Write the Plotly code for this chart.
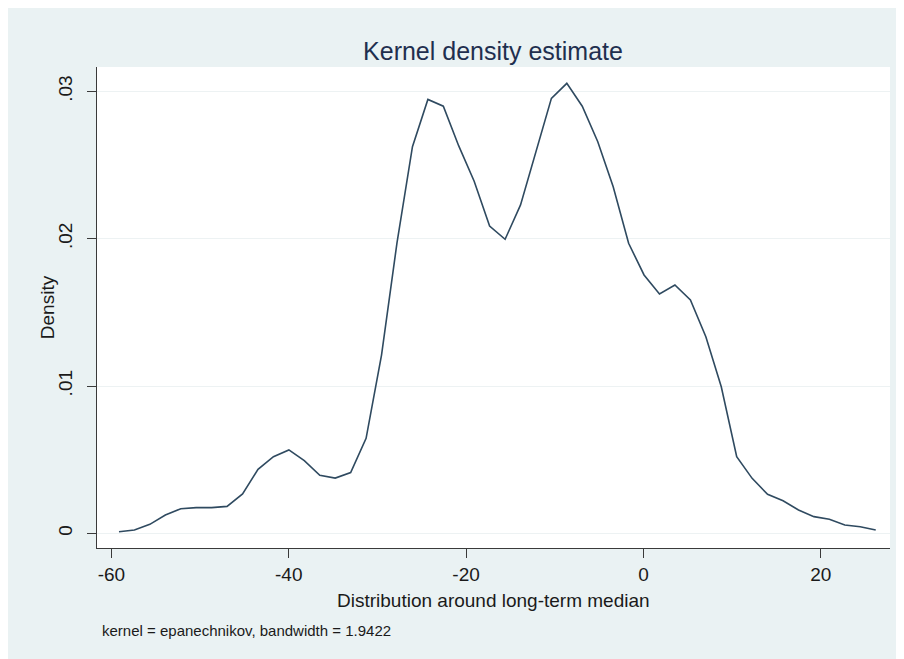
import plotly.graph_objects as go

# Kernel density evaluation points
x_points = [-59.15, -57.41, -55.67, -53.92, -52.18, -50.44, -48.70, -46.96, -45.21, -43.47,
            -41.73, -39.99, -38.25, -36.50, -34.76, -33.02, -31.28, -29.54, -27.80, -26.05,
            -24.31, -22.57, -20.83, -19.09, -17.35, -15.60, -13.86, -12.12, -10.38, -8.64,
            -6.90, -5.15, -3.41, -1.67, 0.07, 1.81, 3.55, 5.30, 7.04, 8.78,
            10.52, 12.26, 14.00, 15.75, 17.49, 19.23, 20.97, 22.71, 24.45, 26.20]
density = [0.00010, 0.00022, 0.00061, 0.00124, 0.00167, 0.00174, 0.00174, 0.00183, 0.00267, 0.00434,
           0.00520, 0.00566, 0.00493, 0.00394, 0.00375, 0.00412, 0.00645, 0.01210, 0.01970, 0.02625,
           0.02946, 0.02900, 0.02630, 0.02390, 0.02086, 0.01996, 0.02230, 0.02590, 0.02953, 0.03055,
           0.02900, 0.02659, 0.02353, 0.01969, 0.01754, 0.01625, 0.01686, 0.01584, 0.01335, 0.00995,
           0.00520, 0.00373, 0.00265, 0.00221, 0.00158, 0.00113, 0.00095, 0.00056, 0.00045, 0.00022]

x_ticks = [-60, -40, -20, 0, 20]
x_tick_labels = ["-60", "-40", "-20", "0", "20"]
y_ticks = [0, 0.01, 0.02, 0.03]
y_tick_labels = ["0", ".01", ".02", ".03"]

title_text = "Kernel density estimate"
x_title = "Distribution around long-term median"
y_title = "Density"
note_text = "kernel = epanechnikov, bandwidth = 1.9422"

FONT = "Liberation Sans, Arial, Helvetica, sans-serif"
AXIS_COLOR = "#3a3a3a"
TEXT_COLOR = "#1a1a1a"

fig = go.Figure()
fig.add_trace(go.Scatter(
    x=x_points, y=density, mode="lines",
    line=dict(color="#2f4a60", width=1.6),
    showlegend=False, hoverinfo="x+y",
))

fig.update_layout(
    width=904, height=659,
    margin=dict(l=89, r=22, t=59, b=119),
    paper_bgcolor="#eaf2f3",
    plot_bgcolor="#ffffff",
    font=dict(family=FONT, size=19, color=TEXT_COLOR),
    title=dict(text=title_text, x=0.5365, xanchor="center", y=0.935, yanchor="middle",
               font=dict(family=FONT, size=25, color="#1f2f4f")),
    xaxis=dict(
        range=[-61.63, 27.81],
        tickmode="array", tickvals=x_ticks, ticktext=x_tick_labels,
        ticks="outside", ticklen=9, tickwidth=1.3, tickcolor=AXIS_COLOR,
        showline=True, linecolor=AXIS_COLOR, linewidth=1.3,
        showgrid=False, zeroline=False,
        tickfont=dict(size=19, color=TEXT_COLOR),
    ),
    yaxis=dict(
        range=[-0.000998, 0.03166],
        tickmode="array", tickvals=y_ticks, ticktext=y_tick_labels,
        tickangle=-90,
        ticks="outside", ticklen=9, tickwidth=1.3, tickcolor=AXIS_COLOR,
        ticklabelstandoff=7,
        showline=True, linecolor=AXIS_COLOR, linewidth=1.3,
        showgrid=True, gridcolor="#edf2f3", gridwidth=1,
        zeroline=False,
        tickfont=dict(size=19, color=TEXT_COLOR),
    ),
    annotations=[
        dict(text=x_title, xref="paper", yref="paper", x=0.5004, y=-0.110,
             xanchor="center", yanchor="middle", showarrow=False,
             font=dict(family=FONT, size=19, color=TEXT_COLOR)),
        dict(text=y_title, xref="paper", yref="paper", x=-0.0622, y=0.5,
             xanchor="center", yanchor="middle", textangle=-90, showarrow=False,
             font=dict(family=FONT, size=19, color=TEXT_COLOR)),
        dict(text=note_text, xref="paper", yref="paper", x=0.0034, y=-0.1705,
             xanchor="left", yanchor="middle", showarrow=False,
             font=dict(family=FONT, size=15, color=TEXT_COLOR)),
    ],
)

fig.write_html("out.html")
